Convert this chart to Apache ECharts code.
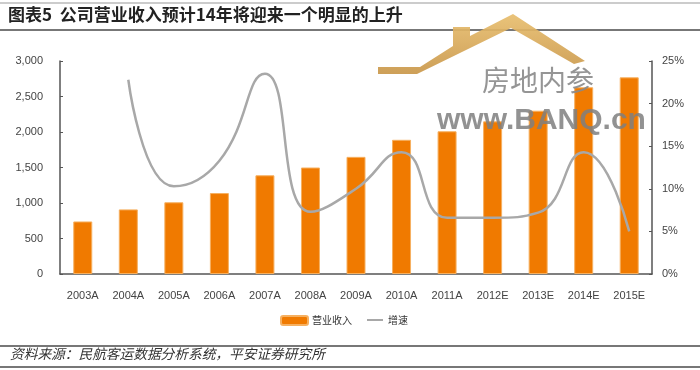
<!DOCTYPE html>
<html>
<head>
<meta charset="utf-8">
<script src="https://cdn.jsdelivr.net/npm/echarts@6/dist/echarts.min.js"></script>
<style>html,body{margin:0;padding:0;background:#fff}#c{width:700px;height:370px}</style>
</head>
<body>
<div id="c"></div>
<script>
var categories = ['2003A','2004A','2005A','2006A','2007A','2008A','2009A','2010A','2011A','2012E','2013E','2014E','2015E'];
var revenue = [740, 910, 1010, 1140, 1390, 1500, 1650, 1890, 2010, 2150, 2300, 2630, 2770];
var growth = [null, 22.8, 10.3, 13.3, 23.5, 7.3, 10.0, 14.3, 6.6, 6.6, 7.2, 14.3, 5.0];
var leftTicks = [0, 500, 1000, 1500, 2000, 2500, 3000];
var rightTicks = [0, 5, 10, 15, 20, 25];
var seriesNames = ['营业收入', '增速'];
var titleText = '图表5  公司营业收入预计14年将迎来一个明显的上升';
var sourceText = '资料来源：民航客运数据分析系统，平安证券研究所';

var chart = echarts.init(document.getElementById('c'), null, {renderer: 'canvas'});
var labelFont = {fontFamily: 'Liberation Sans, Arial, sans-serif', fontSize: 11, color: '#444'};
var axisLineStyle = {lineStyle: {color: '#555', width: 1.5}};

chart.setOption({
  animation: false,
  backgroundColor: '#fff',
  grid: {left: 60, right: 48, top: 61, bottom: 96},
  legend: [{
    data: [seriesNames[0]], left: 275, top: 310, itemWidth: 27, itemHeight: 9, itemGap: 4,
    textStyle: {fontFamily: 'Noto Sans CJK SC', fontSize: 10, color: '#333', padding: [0,0,0,-1]}
  }, {
    data: [{name: seriesNames[1], icon: 'rect'}], left: 362, top: 310, itemWidth: 16, itemHeight: 2,
    textStyle: {fontFamily: 'Noto Sans CJK SC', fontSize: 10, color: '#333'}
  }],
  xAxis: {
    type: 'category', data: categories,
    axisLine: axisLineStyle,
    axisTick: {inside: true, length: 3, lineStyle: {color: '#555'}},
    axisLabel: Object.assign({margin: 16, interval: 0}, labelFont)
  },
  yAxis: [{
    type: 'value', min: leftTicks[0], max: leftTicks[leftTicks.length-1], interval: 500,
    axisLine: Object.assign({show: true}, axisLineStyle),
    axisTick: {show: true, inside: true, length: 3, lineStyle: {color: '#555'}},
    splitLine: {show: false},
    axisLabel: Object.assign({margin: 17, formatter: function(v){return v.toLocaleString('en-US');}}, labelFont)
  }, {
    type: 'value', min: rightTicks[0], max: rightTicks[rightTicks.length-1], interval: 5,
    axisLine: Object.assign({show: true}, axisLineStyle),
    axisTick: {show: true, inside: true, length: 3, lineStyle: {color: '#555'}},
    splitLine: {show: false},
    axisLabel: Object.assign({margin: 10, formatter: '{value}%'}, labelFont)
  }],
  series: [{
    name: seriesNames[0], type: 'bar', data: revenue, barWidth: 19,
    itemStyle: {color: '#F07A00', borderColor: '#F6B060', borderWidth: 1}
  }, {
    name: seriesNames[1], type: 'line', yAxisIndex: 1, data: growth, smooth: 0.5,
    showSymbol: false, symbol: 'none', connectNulls: false,
    lineStyle: {color: '#A8A8A8', width: 2.5}, itemStyle: {color: '#A8A8A8'}
  }],
  graphic: [
    {type: 'line', shape: {x1: 0, y1: 3, x2: 700, y2: 3}, style: {stroke: '#999', lineWidth: 1}},
    {type: 'line', shape: {x1: 0, y1: 30, x2: 700, y2: 30}, style: {stroke: '#777', lineWidth: 2}},
    {type: 'text', left: 8, top: 6, style: {text: titleText, font: 'bold 17px "Noto Sans CJK SC"', fill: '#222'}},
    {type: 'line', shape: {x1: 0, y1: 346, x2: 700, y2: 346}, style: {stroke: '#777', lineWidth: 2}},
    {type: 'line', shape: {x1: 0, y1: 367, x2: 700, y2: 367}, style: {stroke: '#777', lineWidth: 2}},
    {type: 'text', left: 10, top: 347, style: {text: sourceText, font: 'italic 13.7px "Noto Sans CJK SC"', fill: '#333'}},
    {type: 'polygon', z: 100, shape: {points: [[378,67],[420,67],[453,46],[453,27],[470,27],[470,36],[513,14],[585,61],[574,64],[511,28],[417,74],[378,74]]},
      style: {fill: new echarts.graphic.LinearGradient(0, 0, 0, 1, [{offset: 0, color: '#E8BE6E'}, {offset: 1, color: '#C9974A'}]), opacity: 0.92}},
    {type: 'text', z: 100, left: 482, top: 66, style: {text: '房地内参', font: '28px "Noto Sans CJK SC"', fill: '#8a8a8a', opacity: 0.9}},
    {type: 'text', z: 100, left: 437, top: 106, style: {text: 'www.BANQ.cn', font: 'bold 30px "Liberation Sans"', fill: '#7f7f7f', opacity: 0.85}}
  ]
});
</script>
</body>
</html>
